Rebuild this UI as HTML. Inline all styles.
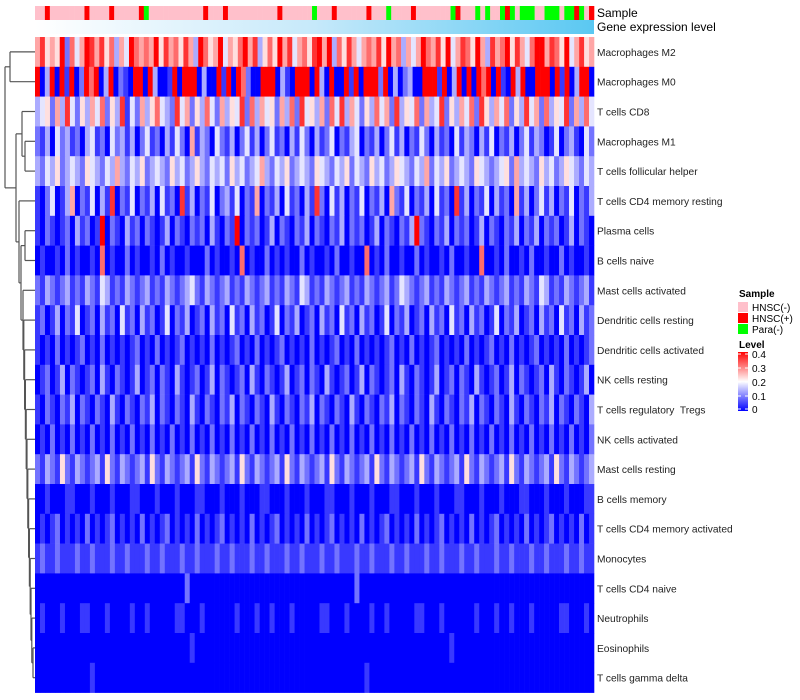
<!DOCTYPE html>
<html><head><meta charset="utf-8">
<style>
body{margin:0;background:#fff;}
svg{display:block;font-family:"Liberation Sans",Arial,sans-serif;}
text{white-space:pre;}
</style></head>
<body>
<svg id="chart" width="800" height="700">
<defs>
<linearGradient id="geneGrad" x1="0" x2="1" y1="0" y2="0">
<stop offset="0" stop-color="#ffffff"/><stop offset="0.5" stop-color="#c6e9fa"/><stop offset="1" stop-color="#5ac8f2"/>
</linearGradient>
<linearGradient id="levelGrad" x1="0" x2="0" y1="1" y2="0">
<stop offset="0" stop-color="#0000ff"/><stop offset="0.5" stop-color="#ffffff"/><stop offset="1" stop-color="#ff0000"/>
</linearGradient>
</defs>
<g id="dendro"></g>
<g id="sampleBar"></g>
<rect x="35" y="20" width="559" height="14" fill="url(#geneGrad)"/>
<text x="597" y="17" font-size="12">Sample</text>
<text x="597" y="31" font-size="12">Gene expression level</text>
<g id="cells"></g>
<g id="labels"></g>
<g>
<text x="739" y="297" font-size="10" font-weight="bold">Sample</text>
<rect x="738" y="302" width="10" height="10" fill="#ffc0cb"/>
<text x="752" y="311" font-size="10">HNSC(-)</text>
<rect x="738" y="313" width="10" height="10" fill="#ff0000"/>
<text x="752" y="322" font-size="10">HNSC(+)</text>
<rect x="738" y="324" width="10" height="10" fill="#00ff00"/>
<text x="752" y="333" font-size="10">Para(-)</text>
<text x="739" y="348" font-size="10" font-weight="bold">Level</text>
<rect x="738" y="352" width="10" height="59" fill="url(#levelGrad)"/>
<g stroke="#fff" stroke-width="1">
<line x1="738" x2="741" y1="354" y2="354"/><line x1="745" x2="748" y1="354" y2="354"/>
<line x1="738" x2="741" y1="368" y2="368"/><line x1="745" x2="748" y1="368" y2="368"/>
<line x1="738" x2="741" y1="382" y2="382"/><line x1="745" x2="748" y1="382" y2="382"/>
<line x1="738" x2="741" y1="396" y2="396"/><line x1="745" x2="748" y1="396" y2="396"/>
<line x1="738" x2="741" y1="409" y2="409"/><line x1="745" x2="748" y1="409" y2="409"/>
</g>
<g font-size="10">
<text x="752" y="358">0.4</text>
<text x="752" y="372">0.3</text>
<text x="752" y="386">0.2</text>
<text x="752" y="400">0.1</text>
<text x="752" y="413">0</text>
</g>
</g>
</svg>
<script>
const rowNames = ["Macrophages M2","Macrophages M0","T cells CD8","Macrophages M1","T cells follicular helper","T cells CD4 memory resting","Plasma cells","B cells naive","Mast cells activated","Dendritic cells resting","Dendritic cells activated","NK cells resting","T cells regulatory  Tregs","NK cells activated","Mast cells resting","B cells memory","T cells CD4 memory activated","Monocytes","T cells CD4 naive","Neutrophils","Eosinophils","T cells gamma delta"];
// each char = level digit (value = d*0.045), 'a' = 0.4
const rowLevels = [
"6856592746a86857364a7676958675863975694657968357596846758a6937586467685967364697685946875963867958647a96875946856",
"a0390a1a02a7a0390210aa0a3001a0a9a0300a1a0a7200a9a0310a9a0a30900a1a0a9a2a0302300a9a1a0390a0a7a0a10a3a00a9a0a1a039a0",
"3452638425364725381426357432846253742635482736452637284536274836425374628354726348253647285364725384627354826374",
"2130423120341204231302412031420613204213024130241203142031240213402130241302142031204132031402130241320140231042",
"3243523432543243632435234325342353243425342346324352343254324352432534235432436243523432543234526343253423543243",
"1024013602140318021402130412081302140231402160213041203182041302140213062140213041208130214031206130241302140213",
"1021012031201a02103120210130210212031021a02120130210213021021302120130210213a21021302120130210213021302120130210",
"0100102010010701002010010201001000201001070100201010020100102001007010200100201001020010070010200102001002010010",
"2132123121321431213212312132123421321231213212312132143121321231213212312432123121321231213212312132143121321231",
"1201302140120312041203120140213012031204120312014021301203120412031201402130120312041203120140213012031204120312",
"1010201012010201010120102010120101020101201020101201010201012010201010120102010120101020101201020101201010201012",
"0120130210120310210130120210310120130210120310210130120210310120130210120310210130120210310120130210120310210130",
"1021021302102103102102130210210310210213021021031021021302102103102102130210210310210213021021031021021302102103",
"0102010201020102010201020102010201020102010201020102010201020102010201020102010201020102010201020102010201020102",
"2132152132123152132123152132123152132123152132123152132123152132123152132123152132123152132123152132123152132123",
"0010001100010001000110001000100011000100010001100010001000110001000100011000100010001100010001000110001000100011",
"0101201010201012010102010120101020101201010201012010102010120101020101201010201012010102010120101020101201010201",
"1211211121121112112111211211121121112112111211211121121112112111211211121121112112111211211121121112112111211211",
"0000000000000000000000000000002000000000000000000000000000000000200000000000000000000000000000000000000000000000",
"0100010001100010000100100000110001000000100010010001000001100010000100100000110001000000100010010001000001100010",
"0000000000000000000000000000000100000000000000000000000000000000000000000000000000010000000000000000000000000000",
"0000000000010000000000000000000000000000000000000000000000000000001000000000000000000000000000000000000000000000"
];
// n = HNSC(-), p = HNSC(+), g = Para(-)
const sampleGroups = "nnpnnnnnnnpnnnnpnnnnnpgnnnnnnnnnnnpnnnpnnnnnnnnnnpnnnnnngnnnpnnnnnnpnnngnnnnpnnnnnnngpnnngngnngpgngggnngggnggpgnp";

const NS="http://www.w3.org/2000/svg";
const X0=35, W=559, Y0=37, RH=29.8;
function valueOf(c){return c==='a'?0.4:parseInt(c,10)*0.045;}
function color(v){
  v=Math.max(0,Math.min(0.4,v));
  let r,g,b;
  if(v<0.2){const t=v/0.2;r=Math.round(255*t);g=r;b=255;}
  else{const t=(v-0.2)/0.2;r=255;g=Math.round(255*(1-t));b=g;}
  return `rgb(${r},${g},${b})`;
}
function rowY(i){return Y0+i*RH;}
function colX(j,n){return X0+j*W/n;}

const cells=document.getElementById('cells');
rowLevels.forEach((s,i)=>{
  const n=s.length;
  for(let j=0;j<n;j++){
    const r=document.createElementNS(NS,'rect');
    r.setAttribute('x',colX(j,n).toFixed(2));
    r.setAttribute('y',rowY(i).toFixed(2));
    r.setAttribute('width',(W/n+0.3).toFixed(2));
    r.setAttribute('height',(RH+0.3).toFixed(2));
    r.setAttribute('fill',color(valueOf(s[j])));
    
    
    cells.appendChild(r);
  }
});
const sb=document.getElementById('sampleBar');
const sCol={n:'#ffc0cb',p:'#ff0000',g:'#00ff00'};
for(let j=0;j<sampleGroups.length;j++){
  const n=sampleGroups.length;
  const r=document.createElementNS(NS,'rect');
  r.setAttribute('x',colX(j,n).toFixed(2));
  r.setAttribute('y','6');
  r.setAttribute('width',(W/n+0.3).toFixed(2));
  r.setAttribute('height','14');
  r.setAttribute('fill',sCol[sampleGroups[j]]);
  
  
  sb.appendChild(r);
}
const labels=document.getElementById('labels');
rowNames.forEach((nm,i)=>{
  const t=document.createElementNS(NS,'text');
  t.setAttribute('x','597');
  t.setAttribute('y',(rowY(i)+RH/2+4).toFixed(1));
  t.setAttribute('font-size','10.2');
  t.setAttribute('fill','#222');
  t.textContent=nm;
  
  
  labels.appendChild(t);
});
// dendrogram
const dg=document.getElementById('dendro');
function seg(x1,y1,x2,y2){
  const l=document.createElementNS(NS,'line');
  l.setAttribute('x1',x1);l.setAttribute('y1',y1);l.setAttribute('x2',x2);l.setAttribute('y2',y2);
  l.setAttribute('stroke','#555');l.setAttribute('stroke-width','1.2');
  dg.appendChild(l);
}
function leaf(i){return {x:35,y:rowY(i)+RH/2};}
function join(a,b,x){seg(a.x,a.y,x,a.y);seg(b.x,b.y,x,b.y);seg(x,a.y,x,b.y);return {x:x,y:(a.y+b.y)/2};}
const A=join(leaf(0),leaf(1),10);
const C=join(leaf(3),leaf(4),25);
const B=join(leaf(2),C,22);
let node=join(leaf(20),leaf(21),33);
for(let i=19;i>=9;i--){node=join(leaf(i),node,23+(i-8)*0.8);}
const P=join(leaf(6),leaf(7),25);
let H=join(leaf(8),node,23);
const G=join(P,H,21);
const F=join(leaf(5),G,19);
const E=join(B,F,16);
join(A,E,5);
</script>
</body></html>
